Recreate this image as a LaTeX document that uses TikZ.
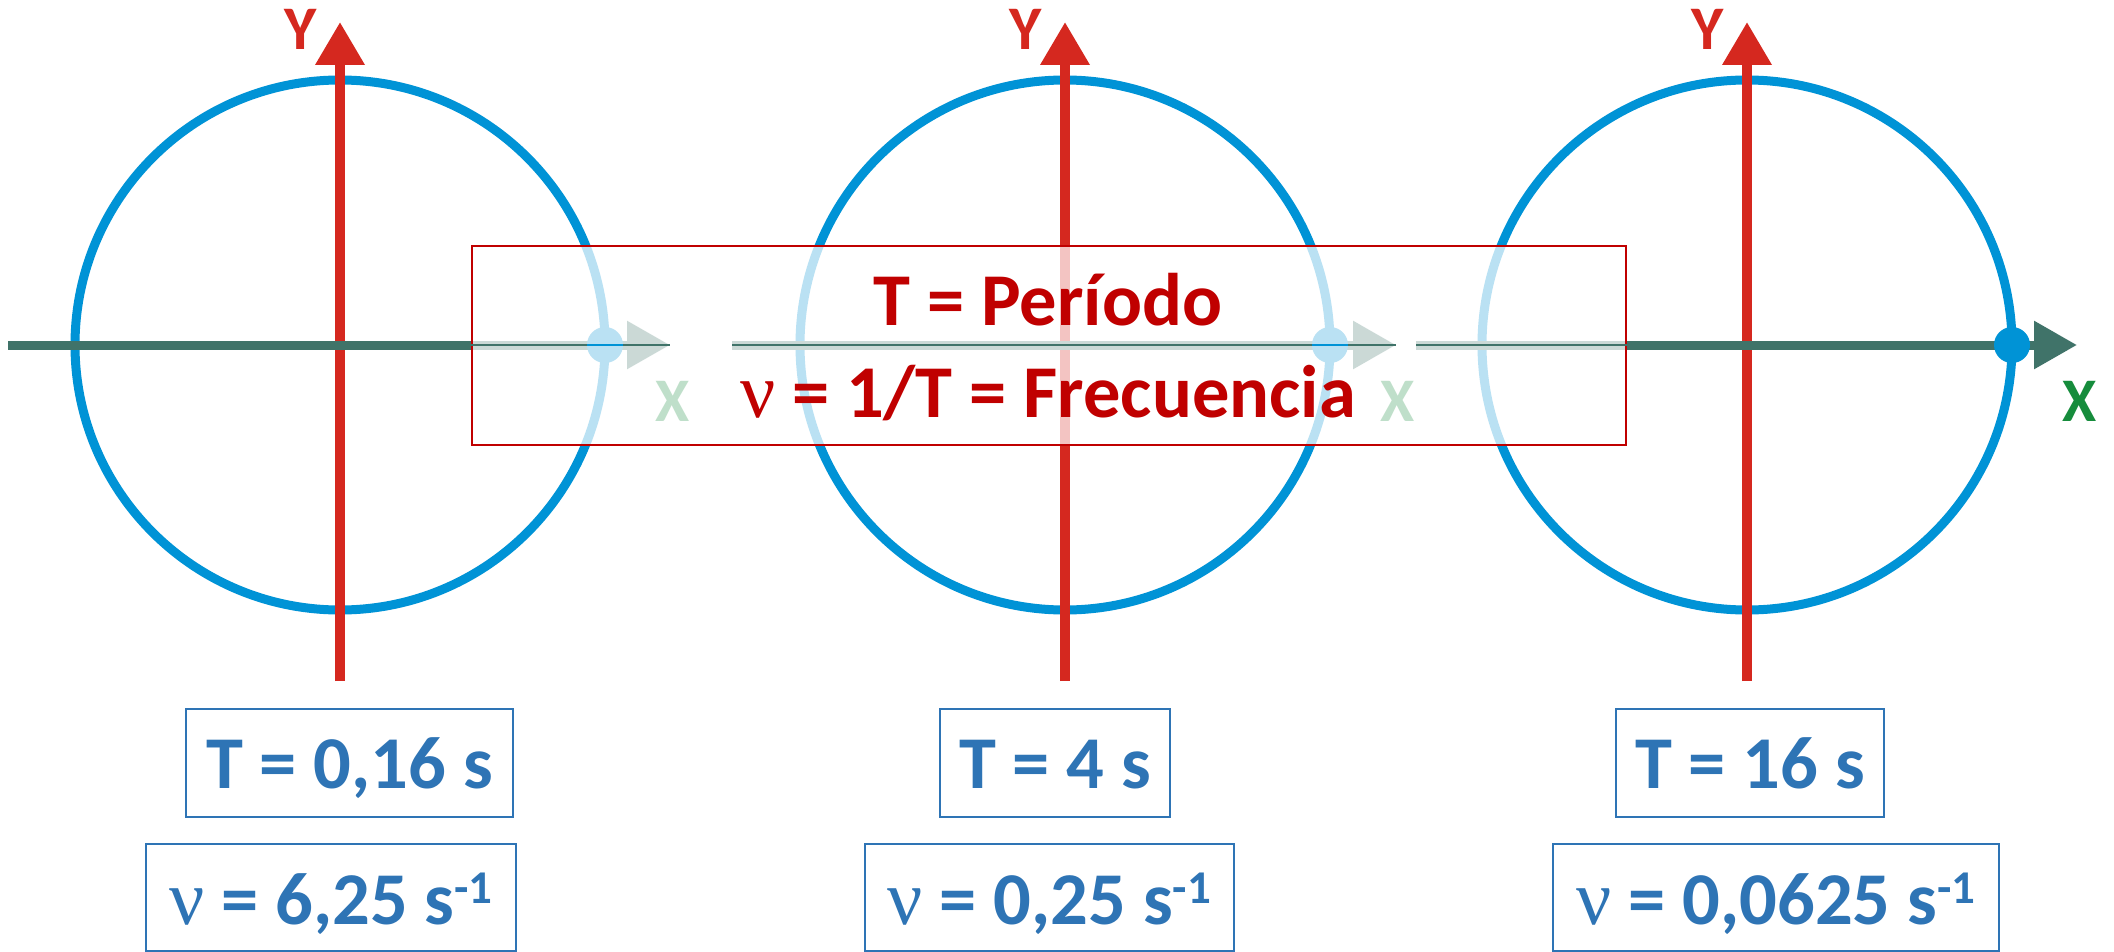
\documentclass[tikz,border=0pt]{standalone}
\usepackage{fontspec}
\setmainfont{Carlito}
\newfontfamily\nufont{Liberation Serif}
\usetikzlibrary{arrows.meta,calc}
\definecolor{circblue}{HTML}{0093D6}
\definecolor{axred}{HTML}{D5281F}
\definecolor{axteal}{HTML}{407369}
\definecolor{xgreen}{HTML}{168C3C}
\definecolor{txtblue}{HTML}{2E74B5}
\definecolor{boxred}{HTML}{C00000}
\newcommand\nusym{{\nufont\mdseries\fontsize{78}{78}\selectfont ν}}
\newcommand\supone{\raisebox{21pt}{\fontsize{47}{47}\selectfont -1}}
\begin{document}
\begin{tikzpicture}[x=1pt,y=-1pt,
  circ/.style={draw=circblue,line width=9pt},
  yax/.style={draw=axred,line width=10pt,-{Triangle[length=43pt,width=47pt]}},
  xax/.style={draw=axteal,line width=9pt,-{Triangle[length=43pt,width=46pt]}},
  dotc/.style={fill=circblue},
  axlab/.style={inner sep=0pt,text height=40pt,text depth=0pt,font=\fontsize{62}{62}\selectfont\bfseries},
  ylab/.style={axlab,text=axred},
  xlab/.style={axlab,text=xgreen},
  redtext/.style={inner sep=0pt,text height=48pt,text depth=0pt,text=boxred,font=\fontsize{74.5}{80}\selectfont\bfseries},
  bbox/.style={draw=txtblue,line width=2pt,inner sep=0pt,text depth=0pt,text=txtblue,font=\fontsize{74.5}{80}\selectfont\bfseries}
]
\useasboundingbox (0,0) rectangle (2114,952);
\fill[white] (0,0) rectangle (2114,952);

% centres
\coordinate (c1) at (340,345);
\coordinate (c2) at (1065,345);
\coordinate (c3) at (1747,345);

% circles
\draw[circ] (c1) circle[radius=265];
\draw[circ] (c2) circle[radius=265];
\draw[circ] (c3) circle[radius=265];

% Y axes
\coordinate (y1s) at (340,681); \coordinate (y1e) at (340,22);
\coordinate (y2s) at (1065,681); \coordinate (y2e) at (1065,22);
\coordinate (y3s) at (1747,681); \coordinate (y3e) at (1747,22);
\draw[yax] (y1s) -- (y1e);
\draw[yax] (y2s) -- (y2e);
\draw[yax] (y3s) -- (y3e);

% X axes
\coordinate (x1s) at (8,345); \coordinate (x1e) at (670,345);
\coordinate (x2s) at (732,345); \coordinate (x2e) at (1396,345);
\coordinate (x3s) at (1416,345); \coordinate (x3e) at (2077,345);
\draw[xax] (x1s) -- (x1e);
\draw[xax] (x2s) -- (x2e);
\draw[xax] (x3s) -- (x3e);

% dots
\coordinate (d1) at (605,345);
\coordinate (d2) at (1330,345);
\coordinate (d3) at (2012,345);
\fill[dotc] (d1) circle[radius=18];
\fill[dotc] (d2) circle[radius=18];
\fill[dotc] (d3) circle[radius=18];

% labels
\node[ylab] (Y1) at (301,30) {Y};
\node[ylab] (Y2) at (1026,30) {Y};
\node[ylab] (Y3) at (1708,30) {Y};
\node[xlab] (X1) at (673,401) {X};
\node[xlab] (X2) at (1398,401) {X};
\node[xlab] (X3) at (2080,401) {X};

% definition box
\node[draw=boxred,line width=2pt,fill=white,fill opacity=0.73,draw opacity=1,
      minimum width=1154pt,minimum height=199pt,inner sep=0pt] (defbox) at (1049,345.5) {};
\begin{scope}
  \clip (defbox.south west) rectangle (defbox.north east);
  \draw[axteal,line width=1.3pt] (x1s) -- (x1e);
  \draw[axteal,line width=1.3pt] (x2s) -- (x2e);
  \draw[axteal,line width=1.3pt] (x3s) -- (x3e);
  \draw[circblue,line width=1.3pt] ($(d1)+(-18,0)$) -- ($(d1)+(18,0)$);
  \draw[circblue,line width=1.3pt] ($(d2)+(-18,0)$) -- ($(d2)+(18,0)$);
\end{scope}
\node[redtext] (t1) at (1048,301) {T = Período};
\node[redtext] (t2) at (1048,393) {\nusym{} = 1/T = Frecuencia};

% value boxes
\node[bbox,minimum width=327pt,minimum height=108pt,text height=50pt] (T1) at (349.5,763) {T = 0,16 s};
\node[bbox,minimum width=230pt,minimum height=108pt,text height=50pt] (T2) at (1055,763) {T = 4 s};
\node[bbox,minimum width=268pt,minimum height=108pt,text height=50pt] (T3) at (1750,763) {T = 16 s};
\node[bbox,minimum width=370pt,minimum height=107pt,text height=54pt] (N1) at (331,897.5) {\nusym{} = 6,25 s\supone};
\node[bbox,minimum width=369pt,minimum height=107pt,text height=54pt] (N2) at (1049.5,897.5) {\nusym{} = 0,25 s\supone};
\node[bbox,minimum width=446pt,minimum height=107pt,text height=54pt] (N3) at (1776,897.5) {\nusym{} = 0,0625 s\supone};
\end{tikzpicture}
\end{document}
